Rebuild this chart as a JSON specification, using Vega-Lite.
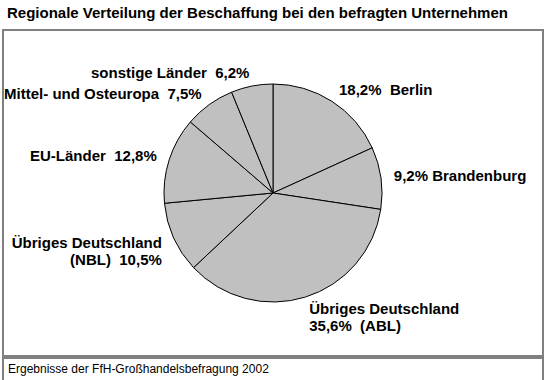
{
  "$schema": "https://vega.github.io/schema/vega-lite/v6.json",
  "padding": {"left": 2, "right": 3, "top": 6, "bottom": 2},
  "autosize": {"type": "pad"},
  "background": "white",
  "title": {
    "text": "Regionale Verteilung der Beschaffung bei den befragten Unternehmen",
    "anchor": "start",
    "font": "Liberation Sans",
    "fontSize": 15,
    "fontWeight": "bold",
    "color": "#000000",
    "offset": 8,
    "dx": 5
  },
  "config": {
    "view": {"stroke": "#808080", "strokeWidth": 2},
    "concat": {"spacing": 0}
  },
  "spacing": 0,
  "vconcat": [
    {
      "width": 540,
      "height": 326,
      "view": {"stroke": "#808080", "strokeWidth": 2, "fill": "white"},
      "data": {
        "values": [
          {"nr": 1, "region": "18,2%\u00a0 Berlin", "anteil": 18.2},
          {"nr": 2, "region": "9,2% Brandenburg", "anteil": 9.2},
          {"nr": 3, "region": "Übriges Deutschland\n35,6%\u00a0 (ABL)", "anteil": 35.6},
          {"nr": 4, "region": "Übriges Deutschland\n(NBL)\u00a0 10,5%", "anteil": 10.5},
          {"nr": 5, "region": "EU-Länder\u00a0 12,8%", "anteil": 12.8},
          {"nr": 6, "region": "Mittel- und Osteuropa\u00a0 7,5%", "anteil": 7.5},
          {"nr": 7, "region": "sonstige Länder\u00a0 6,2%", "anteil": 6.2}
        ]
      },
      "layer": [
        {
          "mark": {
            "type": "arc",
            "radius": 109,
            "fill": "#c0c0c0",
            "stroke": "#000000",
            "strokeWidth": 1
          },
          "encoding": {
            "theta": {"field": "anteil", "type": "quantitative", "stack": true},
            "order": {"field": "nr", "type": "quantitative"}
          }
        },
        {
          "mark": {
            "type": "text",
            "radius": 122,
            "font": "Liberation Sans",
            "fontSize": 15,
            "fontWeight": "bold",
            "color": "#000000",
            "lineBreak": "\n",
            "lineHeight": 17,
            "baseline": "middle",
            "align": {"expr": "datum.nr <= 3 ? 'left' : 'right'"}
          },
          "encoding": {
            "theta": {"field": "anteil", "type": "quantitative", "stack": true},
            "order": {"field": "nr", "type": "quantitative"},
            "text": {"field": "region", "type": "nominal"}
          }
        }
      ]
    },
    {
      "width": 540,
      "height": 23,
      "view": {"stroke": "#808080", "strokeWidth": 2, "fill": "white"},
      "data": {"values": [{"quelle": "Ergebnisse der FfH-Großhandelsbefragung 2002"}]},
      "mark": {
        "type": "text",
        "align": "left",
        "baseline": "middle",
        "font": "Liberation Sans",
        "fontSize": 12,
        "color": "#000000",
        "dy": -1
      },
      "encoding": {
        "text": {"field": "quelle", "type": "nominal"},
        "x": {"value": 5}
      }
    }
  ]
}
